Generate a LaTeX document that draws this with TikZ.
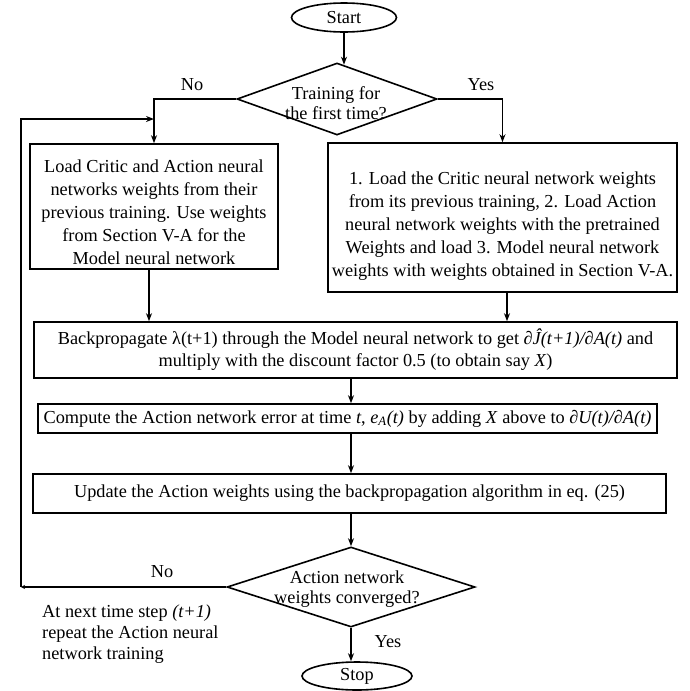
\documentclass[tikz,border=0pt]{standalone}
\usepackage{fontspec}
\setmainfont{Liberation Serif}
\usetikzlibrary{shapes.geometric,arrows.meta,calc}

\begin{document}
\begin{tikzpicture}[x=1pt,y=-1pt,
  every node/.style={font=\fontsize{18.3}{23}\selectfont, inner sep=0pt},
  procbox/.style={draw, line width=1.6pt, align=center},
  decision/.style={draw, diamond, line width=1.6pt, inner sep=0pt},
  term/.style={draw, ellipse, line width=1.6pt},
  dtext/.style={align=center, font=\fontsize{18.3}{20.5}\selectfont},
  arr/.style={line width=1.6pt, -{Stealth[length=8pt,width=6pt]}},
  smallarr/.style={line width=1.6pt, -{Stealth[length=4pt,width=4pt]}},
  lbl/.style={font=\fontsize{18.3}{20}\selectfont}
]
\useasboundingbox (0,0) rectangle (689,691);

% terminals and decisions
\node[term, minimum width=105pt, minimum height=29pt] (start) at (344,17.5) {Start};
\node[decision, minimum width=200pt, minimum height=72pt] (d1) at (337,99) {};
\node[dtext] (d1t) at (336,103) {Training for\\the first time?};

% process boxes (the leading rule lowers the text block a little)
\node[procbox, minimum width=248pt, minimum height=125pt] (lbox) at (154,206.5)
  {\rule{0pt}{24pt}Load Critic and Action neural\\networks weights from their\\previous training. Use weights\\from Section V-A for the\\Model neural network};
\node[procbox, minimum width=349pt, minimum height=149pt] (rbox) at (502.5,217.5)
  {\rule{0pt}{30pt}1. Load the Critic neural network weights\\from its previous training, 2. Load Action\\neural network weights with the pretrained\\Weights and load 3. Model neural network\\weights with weights obtained in Section V-A.};
\node[procbox, minimum width=643pt, minimum height=56pt, font=\fontsize{18.3}{22}\selectfont] (bp) at (355.5,350)
  {Backpropagate λ(t+1) through the Model neural network to get \textit{∂Ĵ(t+1)/∂A(t)} and\\multiply with the discount factor 0.5 (to obtain say \textit{X})};
\node[procbox, minimum width=619pt, minimum height=29pt] (cp) at (347.5,418.5)
  {Compute the Action network error at time \textit{t}, \textit{e}\textsubscript{\textit{A}}\textit{(t)} by adding \textit{X} above to \textit{∂U(t)/∂A(t)}};
\node[procbox, minimum width=633pt, minimum height=39pt] (up) at (349.5,493.5)
  {Update the Action weights using the backpropagation algorithm in eq. (25)};

\node[decision, minimum width=248pt, minimum height=80pt] (d2) at (351,587) {};
\node[dtext] (d2t) at (347,589) {Action network\\weights converged?};
\node[term, minimum width=110pt, minimum height=28pt] (stop) at (357,676) {Stop};

% branch labels and note
\node[lbl] (no1) at (192,85) {No};
\node[lbl] (yes1) at (481,85) {Yes};
\node[lbl] (no2) at (162,572) {No};
\node[lbl] (yes2) at (388,642) {Yes};
\node[align=left, anchor=west, font=\fontsize{18.3}{21}\selectfont] (note) at (42,634)
  {At next time step \textit{(t+1)}\\repeat the Action neural\\network training};

% connectors
\draw[arr] (start.south) -- ($(d1.north)+(7,2.5)$);
\draw[arr] (d1.west) -| (lbox.north);
\draw[arr] (d1.east) -| (rbox.north);
\draw[arr] ([xshift=-5pt]lbox.south) -- ([xshift=-5pt]lbox.south |- bp.north);
\draw[arr] ([xshift=4.5pt]rbox.south) -- ([xshift=4.5pt]rbox.south |- bp.north);
\draw[arr] (bp.south -| d2.north) -- (cp.north -| d2.north);
\draw[arr] (cp.south -| d2.north) -- (up.north -| d2.north);
\draw[arr] (up.south -| d2.north) -- (d2.north);
\draw[arr] (d2.south) -- (d2.south |- stop.north);

% loop back for the next time step
\coordinate (lc) at (21,587);
\coordinate (lt) at (21,119);
\draw[smallarr] (d2.west) -- (lc);
\draw[arr] (lc) -- (lt) -- (lt -| lbox.north);
\end{tikzpicture}
\end{document}
